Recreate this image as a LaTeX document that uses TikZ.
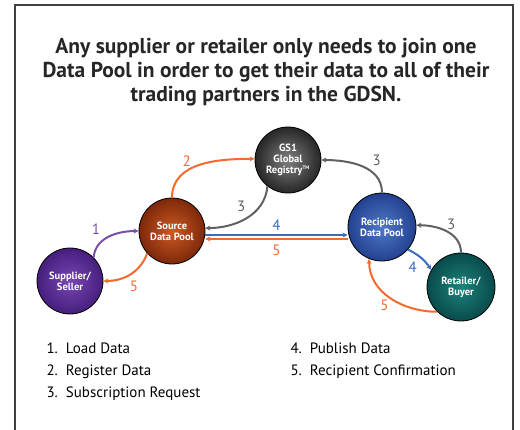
\documentclass[tikz,border=0pt]{standalone}
\usepackage{fontspec}
\setmainfont{PT Sans}
\usetikzlibrary{arrows.meta}
\definecolor{flowOrange}{HTML}{F26A2E}
\definecolor{flowPurple}{HTML}{7B4FA8}
\definecolor{flowGray}{HTML}{606060}
\definecolor{flowBlue}{HTML}{3C6CC0}
\tikzset{
  pool/.style={circle,draw=black,line width=0.8pt,minimum size=66pt,inner sep=0pt,
    align=center,text=white,font=\fontsize{10.5}{11}\selectfont\bfseries},
  flow/.style={line width=2pt,-{Stealth[length=5pt,width=5pt]}},
  num/.style={font=\fontsize{15}{15}\selectfont}
}
\begin{document}
\begin{tikzpicture}[x=1pt,y=-1pt]
\useasboundingbox (0,0) rectangle (520,429);
% Frame
\draw[line width=1.6pt,black!75] (15,432) -- (15,5) -- (513,5) -- (513,432);

% Title
\node[align=center,font=\fontsize{21.5}{24}\selectfont\bfseries,text=black!85] (title) at (266,72)
  {Any supplier or retailer only needs to join one\\Data Pool in order to get their data to all of their\\trading partners in the GDSN.};

% Nodes
\node[pool,shade,inner color=black!50,outer color=black!85] (gsone) at (288,160) {GS1\\Global\\Registry\textsuperscript{\tiny TM}};
\node[pool,shade,inner color={rgb,255:red,205;green,90;blue,35},outer color={rgb,255:red,125;green,40;blue,10}] (source) at (172,231) {Source\\Data Pool};
\node[pool,shade,inner color={rgb,255:red,120;green,70;blue,180},outer color={rgb,255:red,70;green,30;blue,125}] (supplier) at (70,281) {Supplier/\\Seller};
\node[pool,minimum size=68pt,shade,inner color={rgb,255:red,80;green,120;blue,200},outer color={rgb,255:red,35;green,65;blue,145}] (recipient) at (382,227) {Recipient\\Data Pool};
\node[pool,minimum size=68pt,shade,inner color={rgb,255:red,30;green,130;blue,125},outer color={rgb,255:red,8;green,75;blue,75}] (retailer) at (461,287) {Retailer/\\Buyer};

% Arrows
\draw[flow,flowPurple] (supplier.45) to[out=85,in=180] node[num,above left,pos=0.4] {1} (source.180);
\draw[flow,flowOrange] (source.222) to[out=250,in=0] node[num,below right,pos=0.6] {5} (supplier.0);
\draw[flow,flowOrange] (source.90) to[out=90,in=180] node[num,above,pos=0.35] {2} (gsone.178);
\draw[flow,flowGray] (gsone.232) to[out=265,in=0] node[num,above left,pos=0.45] {3} (source.5);
\draw[flow,flowGray] (recipient.90) to[out=90,in=0] node[num,above right,pos=0.4] {3} (gsone.0);
\draw[flow,flowBlue] ([yshift=-4pt]source.east) -- node[num,above] {4} ([yshift=-8pt]recipient.west);
\draw[flow,flowOrange] ([yshift=-12pt]recipient.west) -- node[num,below=2pt] {5} ([yshift=-8pt]source.east);
\draw[flow,flowGray] (retailer.90) to[out=90,in=0] node[num,above,pos=0.4] {3} (recipient.3);
\draw[flow,flowBlue] (recipient.-41) to[bend left=15] node[num,below left] {4} (retailer.150);
\draw[flow,flowOrange] (retailer.226) to[out=180,in=270] node[num,below left,pos=0.5,inner sep=1pt] {5} (recipient.248);

% Legend
\node[anchor=west,font=\fontsize{15}{22}\selectfont,align=left] (legleft) at (43,372)
  {1.\ \ Load Data\\2.\ \ Register Data\\3.\ \ Subscription Request};
\node[anchor=north west,font=\fontsize{15}{22}\selectfont,align=left] (legright) at (legleft.north west -| 287,0)
  {4.\ \ Publish Data\\5.\ \ Recipient Confirmation};
\end{tikzpicture}
\end{document}
